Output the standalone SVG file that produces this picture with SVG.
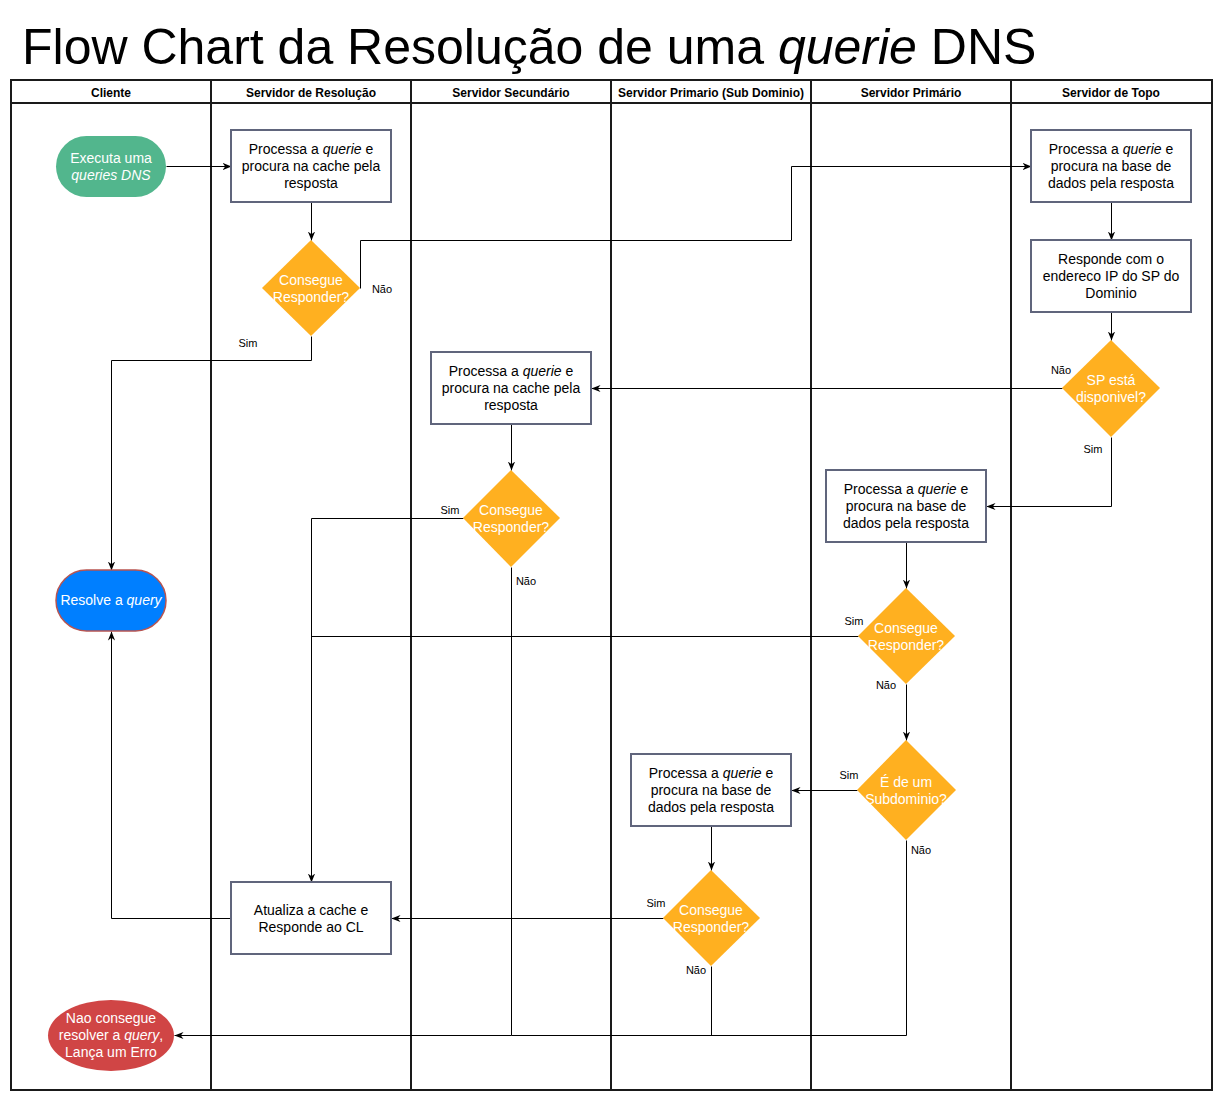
<svg xmlns="http://www.w3.org/2000/svg" width="1222" height="1102" viewBox="0 0 1222 1102">
<style>
text{font-family:"Liberation Sans",Arial,sans-serif}
.title{font-size:50px;fill:#000}
.hdr{font-size:12px;font-weight:bold;text-anchor:middle;fill:#000}
.lane{fill:none;stroke:#1a1a1a;stroke-width:2}
.box{fill:#fff;stroke:#60657c;stroke-width:2}
.bt{font-size:14px;text-anchor:middle;fill:#000}
.dia{fill:#FFB020}
.dt{font-size:14px;text-anchor:middle;fill:#fff}
.pt{font-size:14px;text-anchor:middle;fill:#fff}
.lbl{font-size:11px;text-anchor:middle;fill:#000}
.c{fill:none;stroke:#000;stroke-width:1}
.i{font-style:italic}
</style>
<defs>
<marker id="arr" viewBox="0 0 10 10" refX="10" refY="5" markerWidth="9" markerHeight="9" markerUnits="userSpaceOnUse" orient="auto">
<path d="M0,1 L10,5 L0,9 L3,5 z" fill="#000"/>
</marker>
</defs>
<rect width="1222" height="1102" fill="#fff"/>
<text class="title" x="22" y="64">Flow Chart da Resolução de uma <tspan class="i">querie</tspan> DNS</text>

<g id="pool">
<rect class="lane" x="11" y="80" width="1201" height="1010"/>
<line class="lane" x1="11" y1="103" x2="1212" y2="103"/>
<line class="lane" x1="211" y1="80" x2="211" y2="1090"/>
<line class="lane" x1="411" y1="80" x2="411" y2="1090"/>
<line class="lane" x1="611" y1="80" x2="611" y2="1090"/>
<line class="lane" x1="811" y1="80" x2="811" y2="1090"/>
<line class="lane" x1="1011" y1="80" x2="1011" y2="1090"/>
<text class="hdr" x="111" y="97">Cliente</text>
<text class="hdr" x="311" y="97">Servidor de Resolução</text>
<text class="hdr" x="511" y="97">Servidor Secundário</text>
<text class="hdr" x="711" y="97">Servidor Primario (Sub Dominio)</text>
<text class="hdr" x="911" y="97">Servidor Primário</text>
<text class="hdr" x="1111" y="97">Servidor de Topo</text>
</g>

<g id="connectors">
<g transform="translate(0.5,0.5)">
<path class="c" d="M166,166 H231" marker-end="url(#arr)"/>
<path class="c" d="M311,202 V240" marker-end="url(#arr)"/>
<path class="c" d="M360,288 V240 H791 V166 H1031" marker-end="url(#arr)"/>
<path class="c" d="M311,336 V360 H111 V570" marker-end="url(#arr)"/>
<path class="c" d="M1111,202 V240" marker-end="url(#arr)" stroke-width="1.5"/>
<path class="c" d="M1111,312 V340" marker-end="url(#arr)"/>
<path class="c" d="M1062,388 H591" marker-end="url(#arr)"/>
<path class="c" d="M1111,437 V506 H986" marker-end="url(#arr)"/>
<path class="c" d="M511,424 V470" marker-end="url(#arr)"/>
<path class="c" d="M463,518 H311 V882" marker-end="url(#arr)"/>
<path class="c" d="M511,567 V1035 H174" marker-end="url(#arr)"/>
<path class="c" d="M906,542 V588" marker-end="url(#arr)"/>
<path class="c" d="M858,636 H311"/>
<path class="c" d="M906,684 V740" marker-end="url(#arr)"/>
<path class="c" d="M857,790 H791" marker-end="url(#arr)"/>
<path class="c" d="M906,840 V1035 H511"/>
<path class="c" d="M711,826 V870" marker-end="url(#arr)"/>
<path class="c" d="M663,918 H391" marker-end="url(#arr)"/>
<path class="c" d="M711,966 V1035"/>
<path class="c" d="M231,918 H111 V631" marker-end="url(#arr)"/>
</g>
<text class="lbl" x="382" y="293">Não</text>
<text class="lbl" x="248" y="347">Sim</text>
<text class="lbl" x="1061" y="374">Não</text>
<text class="lbl" x="1093" y="453">Sim</text>
<text class="lbl" x="450" y="514">Sim</text>
<text class="lbl" x="526" y="585">Não</text>
<text class="lbl" x="854" y="625">Sim</text>
<text class="lbl" x="886" y="689">Não</text>
<text class="lbl" x="849" y="779">Sim</text>
<text class="lbl" x="921" y="854">Não</text>
<text class="lbl" x="656" y="907">Sim</text>
<text class="lbl" x="696" y="974">Não</text>
</g>

<g id="start">
<rect x="56" y="136" width="110" height="61" rx="30.5" fill="#52B68D"/>
<text class="pt" x="111" y="163">Executa uma</text>
<text class="pt i" x="111" y="180">queries DNS</text>
</g>

<g id="res-process">
<rect class="box" x="231" y="130" width="160" height="72"/>
<text class="bt" x="311" y="154">Processa a <tspan class="i">querie</tspan> e</text>
<text class="bt" x="311" y="171">procura na cache pela</text>
<text class="bt" x="311" y="188">resposta</text>
</g>

<g id="res-decision">
<polygon class="dia" points="311,240 360,288 311,336 262,288"/>
<text class="dt" x="311" y="285">Consegue</text>
<text class="dt" x="311" y="302">Responder?</text>
</g>

<g id="top-process">
<rect class="box" x="1031" y="130" width="160" height="72"/>
<text class="bt" x="1111" y="154">Processa a <tspan class="i">querie</tspan> e</text>
<text class="bt" x="1111" y="171">procura na base de</text>
<text class="bt" x="1111" y="188">dados pela resposta</text>
</g>

<g id="top-respond">
<rect class="box" x="1031" y="240" width="160" height="72"/>
<text class="bt" x="1111" y="264">Responde com o</text>
<text class="bt" x="1111" y="281">endereco IP do SP do</text>
<text class="bt" x="1111" y="298">Dominio</text>
</g>

<g id="top-decision">
<polygon class="dia" points="1111,340 1160,388 1111,437 1062,388"/>
<text class="dt" x="1111" y="385">SP está</text>
<text class="dt" x="1111" y="402">disponivel?</text>
</g>

<g id="sec-process">
<rect class="box" x="431" y="352" width="160" height="72"/>
<text class="bt" x="511" y="376">Processa a <tspan class="i">querie</tspan> e</text>
<text class="bt" x="511" y="393">procura na cache pela</text>
<text class="bt" x="511" y="410">resposta</text>
</g>

<g id="sec-decision">
<polygon class="dia" points="511,470 560,518 511,567 463,518"/>
<text class="dt" x="511" y="515">Consegue</text>
<text class="dt" x="511" y="532">Responder?</text>
</g>

<g id="prim-process">
<rect class="box" x="826" y="470" width="160" height="72"/>
<text class="bt" x="906" y="494">Processa a <tspan class="i">querie</tspan> e</text>
<text class="bt" x="906" y="511">procura na base de</text>
<text class="bt" x="906" y="528">dados pela resposta</text>
</g>

<g id="prim-decision">
<polygon class="dia" points="906,588 955,636 906,684 858,636"/>
<text class="dt" x="906" y="633">Consegue</text>
<text class="dt" x="906" y="650">Responder?</text>
</g>

<g id="prim-subdomain">
<polygon class="dia" points="906,740 956,790 906,840 857,790"/>
<text class="dt" x="906" y="787">É de um</text>
<text class="dt" x="906" y="804">Subdominio?</text>
</g>

<g id="sub-process">
<rect class="box" x="631" y="754" width="160" height="72"/>
<text class="bt" x="711" y="778">Processa a <tspan class="i">querie</tspan> e</text>
<text class="bt" x="711" y="795">procura na base de</text>
<text class="bt" x="711" y="812">dados pela resposta</text>
</g>

<g id="sub-decision">
<polygon class="dia" points="711,870 760,918 711,966 663,918"/>
<text class="dt" x="711" y="915">Consegue</text>
<text class="dt" x="711" y="932">Responder?</text>
</g>

<g id="update-cache">
<rect class="box" x="231" y="882" width="160" height="72"/>
<text class="bt" x="311" y="915">Atualiza a cache e</text>
<text class="bt" x="311" y="932">Responde ao CL</text>
</g>

<g id="resolve">
<rect x="56" y="570" width="110" height="61" rx="30.5" fill="#007FFF" stroke="#B85450" stroke-width="1.5"/>
<text class="pt" x="111" y="605">Resolve a <tspan class="i">query</tspan></text>
</g>

<g id="error">
<ellipse cx="111" cy="1035.5" rx="63" ry="35.5" fill="#D04545"/>
<text class="pt" x="111" y="1023">Nao consegue</text>
<text class="pt" x="111" y="1040">resolver a <tspan class="i">query</tspan>,</text>
<text class="pt" x="111" y="1057">Lança um Erro</text>
</g>
</svg>
